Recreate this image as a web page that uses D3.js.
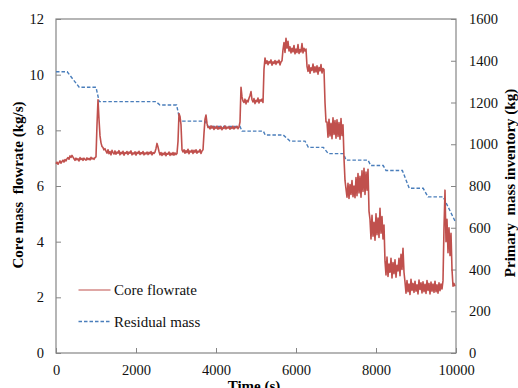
<!DOCTYPE html>
<html>
<head>
<meta charset="utf-8">
<script src="https://cdn.jsdelivr.net/npm/d3@7"></script>
<style>
  body { margin: 0; background: #fff; }
  svg { display: block; }
  svg text { white-space: pre; font-family: "Liberation Serif", "Times New Roman", "DejaVu Serif", serif !important; }
</style>
</head>
<body>
<svg id="chart" width="518" height="388"></svg>
<script>
// ---- data ----
// core flowrate (kg/s), one reading every 25 s starting at t = 0
var flowStart = 0;
var flowStep = 25;
var flowValues = [
  // 0 - 975 s
  6.80,6.86,6.78,6.84,6.90,6.82,6.88,6.93,6.86,6.95,6.90,6.98,7.02,6.96,7.08,7.03,7.10,
  7.04,6.98,6.92,7.00,6.94,6.98,6.90,7.02,6.95,6.99,6.92,7.00,6.96,6.93,7.01,6.95,6.99,6.94,7.03,6.97,7.00,6.96,7.02,
  // spike at ~1040 s
  7.05,8.20,9.10,8.40,7.80,7.55,7.42,7.38,7.30,7.34,
  // 1250 - 2475 s
  7.25,7.18,7.30,7.16,7.24,7.12,7.28,7.20,7.15,7.26,
  7.14,7.22,7.18,7.27,7.12,7.21,7.16,7.25,7.11,7.20,
  7.17,7.24,7.13,7.22,7.18,7.26,7.12,7.19,7.15,7.23,
  7.11,7.21,7.17,7.25,7.13,7.20,7.16,7.24,7.12,7.19,
  7.15,7.22,7.13,7.21,7.16,7.24,7.12,7.20,7.17,7.22,
  // small bump ~2525 s
  7.35,7.53,7.40,7.24,
  7.12,7.20,7.10,7.18,7.13,7.21,7.09,7.17,7.14,7.22,7.10,7.18,7.12,7.20,7.11,7.19,7.13,7.17,
  // spike ~3075 s
  7.60,8.60,8.50,8.20,7.30,
  7.22,7.30,7.18,7.27,7.20,7.32,7.16,7.26,7.22,7.29,7.17,7.28,7.21,7.30,7.18,7.25,7.22,7.31,7.17,7.26,7.30,
  // step up ~3725 s
  7.90,8.40,8.55,8.25,8.10,
  8.12,8.05,8.16,8.08,8.14,8.03,8.12,8.07,8.15,8.04,
  8.11,8.06,8.14,8.02,8.10,8.07,8.16,8.05,8.12,8.08,
  8.13,8.04,8.11,8.07,8.15,8.05,8.12,8.09,8.14,8.06,8.12,
  // step up ~4625 s
  8.30,9.55,9.20,9.05,
  9.00,9.12,8.95,9.08,9.02,9.15,9.25,9.39,9.10,9.02,9.14,8.96,9.08,9.03,9.16,8.98,9.10,9.05,9.12,9.00,
  // step up ~5200 s
  10.20,10.60,
  10.40,10.50,10.36,10.47,10.42,10.53,10.34,10.46,10.40,10.51,10.37,10.48,10.43,10.52,10.35,10.46,10.50,
  // step up ~5675 s
  10.90,11.15,10.80,11.31,10.95,11.20,10.85,11.00,10.78,10.95,
  10.82,11.05,10.75,10.92,10.80,11.08,10.76,10.90,10.82,11.12,10.78,10.95,10.85,10.92,
  // ~6275 s
  10.30,10.12,10.35,10.05,10.25,10.15,10.38,10.08,10.28,10.10,
  10.32,10.02,10.26,10.14,10.36,10.06,10.22,10.18,
  // drop ~6725 s
  9.00,8.30,
  8.30,7.75,8.40,7.80,8.25,7.70,8.45,7.85,8.35,7.72,8.38,7.78,8.28,7.68,8.42,7.82,8.20,
  // drop ~7200 s
  7.00,6.20,
  5.90,5.60,6.10,5.55,6.05,5.70,6.20,5.62,6.00,5.58,
  6.30,5.65,6.45,5.75,6.35,5.60,6.55,5.80,6.64,5.70,6.50,5.85,6.60,
  // drop ~7825 s
  5.10,
  4.80,4.10,4.95,4.20,4.70,4.05,5.00,4.25,4.85,4.15,5.20,4.30,4.90,4.10,4.60,
  // drop ~8225 s
  3.30,2.80,3.45,2.75,3.20,2.90,3.40,2.70,3.25,2.85,
  3.35,2.72,3.15,2.95,3.40,2.78,3.55,3.00,3.76,2.90,
  // ~8725 - 9650 s
  2.55,2.15,2.60,2.20,2.48,2.10,2.65,2.25,2.50,2.18,
  2.58,2.22,2.45,2.12,2.62,2.28,2.52,2.16,2.56,2.20,
  2.47,2.14,2.60,2.25,2.50,2.12,2.55,2.22,2.48,2.18,
  2.58,2.20,2.45,2.15,2.52,2.24,2.48,2.30,
  // end spike ~9725 s
  2.60,4.50,5.85,4.00,4.80,3.60,4.50,3.50,4.30,3.00,2.40,2.50,2.40
];

// residual mass (kg)
var massTime = [0, 280, 580, 1000, 1080, 2500, 2600, 3015, 3100, 3725, 3800, 4600, 4650, 5183, 5230,
  5683, 5850, 6225, 6308, 6683, 6808, 7185, 7250, 7800, 7870, 8180, 8250, 8660, 8830, 9180, 9300, 9680, 9975];
var massValues = [1347, 1347, 1273, 1273, 1204, 1204, 1188, 1188, 1111, 1111, 1085, 1085, 1063, 1063, 1044,
  1044, 1015, 1015, 985, 985, 955, 955, 924, 924, 898, 898, 874, 874, 789, 789, 748, 748, 632];

var xTicks = [0, 2000, 4000, 6000, 8000, 10000];
var yLeftTicks = [0, 2, 4, 6, 8, 10, 12];
var yRightTicks = [0, 200, 400, 600, 800, 1000, 1200, 1400, 1600];

var seriesNames = ["Core flowrate", "Residual mass"];
var seriesColors = ["#c0504d", "#4a7ebb"];

// ---- drawing ----
var svg = d3.select("#chart");
var plotL = 56, plotR = 456, plotT = 19, plotB = 353;
var axisColor = "#858585";

var x = d3.scaleLinear().domain([0, 10000]).range([plotL, plotR]);
var yL = d3.scaleLinear().domain([0, 12]).range([plotB, plotT]);
var yR = d3.scaleLinear().domain([0, 1600]).range([plotB, plotT]);

function styleAxis(g) {
  g.attr("font-family", null).attr("font-size", null);
  g.select(".domain").remove();
  g.selectAll(".tick line").attr("stroke", axisColor);
  g.selectAll(".tick text").attr("fill", "#111").style("font-size", "14.5px");
}

svg.append("g").attr("transform", "translate(0," + plotB + ")")
  .call(d3.axisBottom(x).tickValues(xTicks).tickFormat(d3.format("d"))
    .tickSizeInner(-5).tickSizeOuter(0).tickPadding(12))
  .call(styleAxis);

svg.append("g").attr("transform", "translate(" + plotL + ",0)")
  .call(d3.axisLeft(yL).tickValues(yLeftTicks).tickSizeInner(-5).tickSizeOuter(0).tickPadding(12))
  .call(styleAxis);

svg.append("g").attr("transform", "translate(" + plotR + ",0)")
  .call(d3.axisRight(yR).tickValues(yRightTicks).tickFormat(d3.format("d"))
    .tickSizeInner(-5).tickSizeOuter(0).tickPadding(13))
  .call(styleAxis);

// frame
svg.append("rect")
  .attr("x", plotL).attr("y", plotT)
  .attr("width", plotR - plotL).attr("height", plotB - plotT)
  .attr("fill", "none").attr("stroke", axisColor).attr("stroke-width", 1.2);

// residual mass, dashed, right axis
var massData = massTime.map(function (t, i) { return [t, massValues[i]]; });
svg.append("path")
  .datum(massData)
  .attr("fill", "none")
  .attr("stroke", seriesColors[1])
  .attr("stroke-width", 1.4)
  .attr("stroke-dasharray", "3.5,2")
  .attr("d", d3.line().x(function (d) { return x(d[0]); }).y(function (d) { return yR(d[1]); }));

// core flowrate, left axis
var flowData = flowValues.map(function (v, i) { return [flowStart + i * flowStep, v]; });
svg.append("path")
  .datum(flowData)
  .attr("fill", "none")
  .attr("stroke", seriesColors[0])
  .attr("stroke-width", 1.6)
  .attr("stroke-linejoin", "round")
  .attr("d", d3.line().x(function (d) { return x(d[0]); }).y(function (d) { return yL(d[1]); }));

// axis titles
svg.append("text")
  .attr("transform", "translate(23,185) rotate(-90)")
  .attr("text-anchor", "middle")
  .style("font-size", "15px").style("font-weight", "bold")
  .text("Core mass  flowrate (kg/s)");

svg.append("text")
  .attr("transform", "translate(515,183) rotate(-90)")
  .attr("text-anchor", "middle")
  .style("font-size", "15px").style("font-weight", "bold")
  .text("Primary  mass inventory (kg)");

svg.append("text")
  .attr("x", 254).attr("y", 391)
  .attr("text-anchor", "middle")
  .style("font-size", "15px").style("font-weight", "bold")
  .text("Time (s)");

// legend
var legend = svg.append("g");
seriesNames.forEach(function (name, i) {
  var ly = 290 + i * 31.5;
  legend.append("line")
    .attr("x1", 78.5).attr("x2", 110.5).attr("y1", ly).attr("y2", ly)
    .attr("stroke", seriesColors[i])
    .attr("stroke-width", i === 0 ? 1.2 : 1.3)
    .attr("stroke-dasharray", i === 0 ? null : "3.5,2");
  legend.append("text")
    .attr("x", 114).attr("y", ly + 5)
    .style("font-size", "15px").attr("fill", "#111")
    .text(name);
});
</script>
</body>
</html>
